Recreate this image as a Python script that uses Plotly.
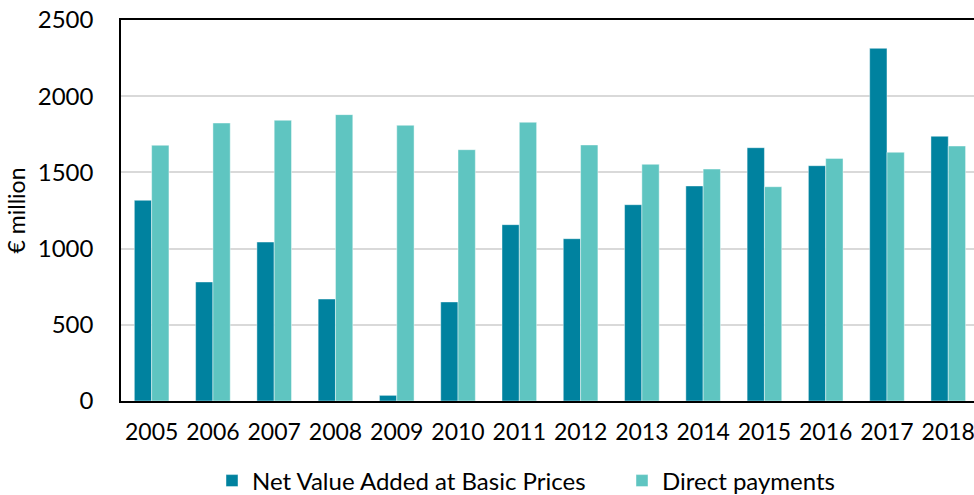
import plotly.graph_objects as go

years = ["2005", "2006", "2007", "2008", "2009", "2010", "2011",
         "2012", "2013", "2014", "2015", "2016", "2017", "2018"]
net_value_added = [1317, 781, 1043, 669, 37, 650, 1157,
                   1065, 1288, 1411, 1662, 1544, 2314, 1737]
direct_payments = [1678, 1824, 1842, 1879, 1809, 1649, 1829,
                   1680, 1553, 1522, 1406, 1592, 1632, 1673]
y_ticks = [0, 500, 1000, 1500, 2000, 2500]

FONT = "Lato, 'Open Sans', sans-serif"
DARK = "#00829F"
LIGHT = "#5FC5C1"

fig = go.Figure()
fig.add_trace(go.Bar(
    x=years, y=net_value_added, name="Net Value Added at Basic Prices",
    marker=dict(color=DARK, line=dict(color="rgba(255,255,255,0.55)", width=0.8)),
))
fig.add_trace(go.Bar(
    x=years, y=direct_payments, name="Direct payments",
    marker=dict(color=LIGHT, line=dict(color="rgba(255,255,255,0.55)", width=0.8)),
))

fig.update_layout(
    width=974, height=495,
    margin=dict(l=121, r=0, t=20, b=94, autoexpand=False),
    paper_bgcolor="white", plot_bgcolor="white",
    font=dict(family=FONT, size=24, color="#000000"),
    barmode="group", bargap=0.435, bargroupgap=0,
    showlegend=True,
    legend=dict(
        orientation="h", xref="container", x=212 / 974, xanchor="left",
        yref="container", y=14 / 495, yanchor="middle",
        font=dict(family=FONT, size=24, color="#000000"),
        itemwidth=30, traceorder="normal",
        entrywidth=365, entrywidthmode="pixels",
    ),
)
fig.update_xaxes(
    type="category", range=[-0.5, 13.42],
    showline=True, linecolor="#000000", linewidth=2, mirror=True,
    showgrid=False, ticks="", ticklabelstandoff=9,
    tickfont=dict(family=FONT, size=23, color="#000000"),
)
fig.update_yaxes(
    range=[0, 2500], tickvals=y_ticks,
    showline=True, linecolor="#000000", linewidth=1.5, mirror=True,
    showgrid=True, gridcolor="#D9D9D9", gridwidth=1.5,
    ticks="", ticklabelstandoff=21, zeroline=False,
    tickfont=dict(family=FONT, size=24, color="#000000"),
    title=dict(text="€ million", font=dict(family=FONT, size=23, color="#000000"), standoff=6),
)

fig.write_html("out.html")
